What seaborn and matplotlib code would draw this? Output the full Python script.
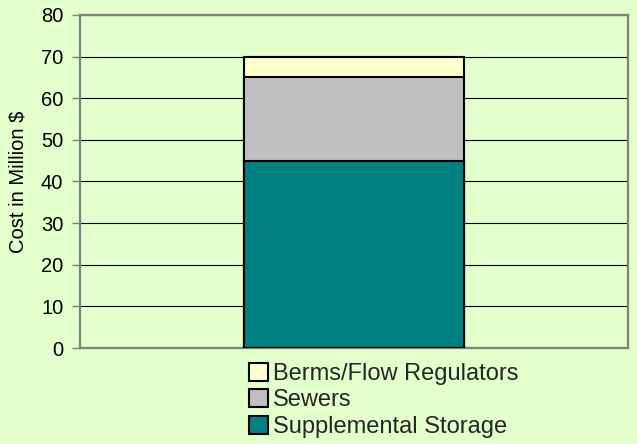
import matplotlib
matplotlib.use("Agg")
import matplotlib.pyplot as plt
import seaborn as sns
import pandas as pd
from matplotlib.patches import Patch

categories = [""]
supplemental_storage = [45]
sewers = [20]
berms_flow_regulators = [5]

series_names = ["Supplemental Storage", "Sewers", "Berms/Flow Regulators"]
series_colors = ["#008080", "#C0C0C0", "#FFFFCC"]

sns.set_theme(style="white")
plt.rcParams["font.family"] = ["Liberation Sans", "DejaVu Sans"]

bg = "#E3FFCC"
fig = plt.figure(figsize=(6.37, 4.44), dpi=100, facecolor=bg)
ax = fig.add_axes([80/637, 1-348/444, 548/637, 333/444])
ax.set_facecolor(bg)

# cumulative totals for stacking
cum1 = [a for a in supplemental_storage]
cum2 = [a + b for a, b in zip(supplemental_storage, sewers)]
cum3 = [a + b + c for a, b, c in zip(supplemental_storage, sewers, berms_flow_regulators)]
df = pd.DataFrame({"cat": categories, "s1": cum1, "s2": cum2, "s3": cum3})

for col, color in zip(["s3", "s2", "s1"], series_colors[::-1]):
    sns.barplot(data=df, x="cat", y=col, color=color, width=0.4, ax=ax,
                edgecolor="black", linewidth=1.5, saturation=1, zorder=3)

ax.set_xlim(-0.5, 0.5)
ax.set_ylim(0, 80)
ax.set_yticks(range(0, 81, 10))
ax.yaxis.grid(True, color="#000000", linewidth=0.8, zorder=0)
ax.set_axisbelow(True)
ax.set_xticks([])
ax.set_xlabel("")
ax.set_ylabel("Cost in Million $", fontsize=14.5, color="black", labelpad=10)
ax.tick_params(axis="y", labelsize=14.5, labelcolor="black", left=True,
               length=6, width=1, color="#808080", pad=6)
for s in ax.spines.values():
    s.set_visible(True)
    s.set_color("#808080")
    s.set_linewidth(1.6)

handles = [Patch(facecolor=c, edgecolor="black", linewidth=1.5)
           for c in series_colors[::-1]]
labels = series_names[::-1]
fig.legend(handles, labels, loc="upper left",
           bbox_to_anchor=(249/637, 1-363/444), bbox_transform=fig.transFigure,
           frameon=False, fontsize=17, borderpad=0, borderaxespad=0,
           handlelength=0.8, handleheight=0.8, handletextpad=0.2,
           labelspacing=0.17)

fig.savefig("out.png", dpi=100, facecolor=bg)
